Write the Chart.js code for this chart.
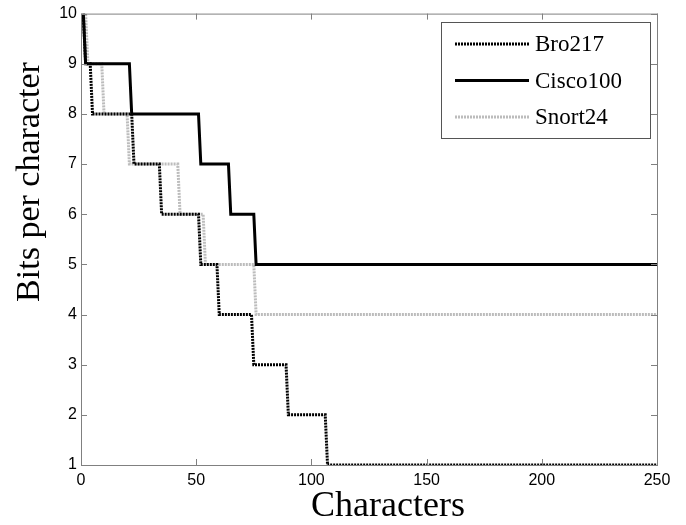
<!DOCTYPE html>
<html>
<head>
<meta charset="utf-8">
<script src="https://cdn.jsdelivr.net/npm/chart.js@4"></script>
<style>
  html, body { margin: 0; padding: 0; background: #fff; }
  #wrap { width: 686px; height: 525px; }
</style>
</head>
<body>
<div id="wrap"><canvas id="bitsChart" width="686" height="525"></canvas></div>
<script>
// step curves: x where each level starts/ends, and the level (bits per character)
const broX    = [1, 2, 4, 5, 22, 23, 34, 35, 51, 52, 59, 60, 74, 75, 89, 90, 106, 107, 250];
const broY    = [10, 9, 9, 8, 8, 7, 7, 6, 6, 5, 5, 4, 4, 3, 3, 2, 2, 1, 1];
const ciscoX  = [1, 2, 21, 22, 51, 52, 64, 65, 75, 76, 250];
const ciscoY  = [10, 9, 9, 8, 8, 7, 7, 6, 6, 5, 5];
const snortX  = [1, 2, 3, 9, 10, 20, 21, 42, 43, 53, 54, 75, 76, 250];
const snortY  = [10, 10, 9, 9, 8, 8, 7, 7, 6, 6, 5, 5, 4, 4];

const xTicks = [0, 50, 100, 150, 200, 250];
const yTicks = [1, 2, 3, 4, 5, 6, 7, 8, 9, 10];

const xTitle = 'Characters';
const yTitle = 'Bits per character';

function toPoints(xs, ys) {
    return xs.map((x, i) => ({ x: x, y: ys[i] }));
}

const axisGray = '#808080';
const titleFont = '"Liberation Serif", serif';

// MATLAB style box with inward ticks on all four sides, axis titles and legend
const boxPlugin = {
    id: 'box',
    afterDatasetsDraw(chart) {
        const { ctx, chartArea: a, scales } = chart;
        ctx.save();
        ctx.strokeStyle = axisGray;
        ctx.lineWidth = 1;
        ctx.strokeRect(a.left + 0.5, a.top + 0.5, a.right - a.left, a.bottom - a.top);
        ctx.beginPath();
        xTicks.forEach(v => {
            const px = Math.round(scales.x.getPixelForValue(v)) + 0.5;
            ctx.moveTo(px, a.bottom); ctx.lineTo(px, a.bottom - 6);
            ctx.moveTo(px, a.top); ctx.lineTo(px, a.top + 6);
        });
        yTicks.forEach(v => {
            const py = Math.round(scales.y.getPixelForValue(v)) + 0.5;
            ctx.moveTo(a.left, py); ctx.lineTo(a.left + 6, py);
            ctx.moveTo(a.right, py); ctx.lineTo(a.right - 6, py);
        });
        ctx.stroke();
        ctx.restore();
    },
    afterDraw(chart) {
        const ctx = chart.ctx;
        ctx.save();
        // axis titles (placed like the original figure, not centred on the axes)
        ctx.fillStyle = '#000';
        ctx.textAlign = 'center';
        ctx.textBaseline = 'alphabetic';
        ctx.font = '36px ' + titleFont;
        ctx.fillText(xTitle, 388, 516);
        ctx.translate(39, 182);
        ctx.rotate(-Math.PI / 2);
        ctx.font = '34px ' + titleFont;
        ctx.fillText(yTitle, 0, 0);
        ctx.restore();

        // legend box in the upper right corner
        const bx = 441, by = 22, bw = 209, bh = 116;
        ctx.save();
        ctx.fillStyle = '#fff';
        ctx.fillRect(bx, by, bw, bh);
        ctx.strokeStyle = '#555';
        ctx.lineWidth = 1;
        ctx.strokeRect(bx + 0.5, by + 0.5, bw, bh);
        ctx.font = '23px ' + titleFont;
        ctx.textBaseline = 'middle';
        chart.data.datasets.forEach((ds, i) => {
            const yy = 44 + i * 36.5;
            ctx.beginPath();
            ctx.strokeStyle = ds.borderColor;
            ctx.lineWidth = ds.borderWidth;
            ctx.setLineDash(ds.borderDash || []);
            ctx.moveTo(455, yy);
            ctx.lineTo(529, yy);
            ctx.stroke();
            ctx.setLineDash([]);
            ctx.fillStyle = '#000';
            ctx.fillText(ds.label, 535, yy + 1);
        });
        ctx.restore();
    }
};

const ctx = document.getElementById('bitsChart').getContext('2d');
const bitsChart = new Chart(ctx, {
    type: 'scatter',
    data: {
        datasets: [{
            label: 'Bro217',
            data: toPoints(broX, broY),
            borderColor: '#000',
            borderWidth: 3,
            borderDash: [2, 1]
        }, {
            label: 'Cisco100',
            data: toPoints(ciscoX, ciscoY),
            borderColor: '#000',
            borderWidth: 3
        }, {
            label: 'Snort24',
            data: toPoints(snortX, snortY),
            borderColor: '#bcbcbc',
            borderWidth: 3,
            borderDash: [2, 1]
        }]
    },
    options: {
        responsive: false,
        animation: false,
        showLine: true,
        elements: {
            point: { radius: 0, hoverRadius: 0 },
            line: { tension: 0, borderCapStyle: 'butt', borderJoinStyle: 'miter' }
        },
        layout: { padding: { left: 0, right: 29, top: 12, bottom: 0 } },
        plugins: {
            legend: { display: false },
            tooltip: { enabled: false }
        },
        scales: {
            x: {
                type: 'linear',
                min: 0,
                max: 250,
                afterBuildTicks: s => { s.ticks = xTicks.map(v => ({ value: v })); },
                afterFit: s => { s.height = 60; },
                grid: { display: false, drawTicks: false },
                border: { display: false },
                ticks: {
                    color: '#000',
                    padding: 6,
                    font: { family: '"Liberation Sans", Arial, sans-serif', size: 16 }
                }
            },
            y: {
                type: 'linear',
                min: 1,
                max: 10,
                afterBuildTicks: s => { s.ticks = yTicks.map(v => ({ value: v })); },
                afterFit: s => { s.width = 81; },
                grid: { display: false, drawTicks: false },
                border: { display: false },
                ticks: {
                    color: '#000',
                    padding: 4,
                    font: { family: '"Liberation Sans", Arial, sans-serif', size: 16 }
                }
            }
        }
    },
    plugins: [boxPlugin]
});
</script>
</body>
</html>
